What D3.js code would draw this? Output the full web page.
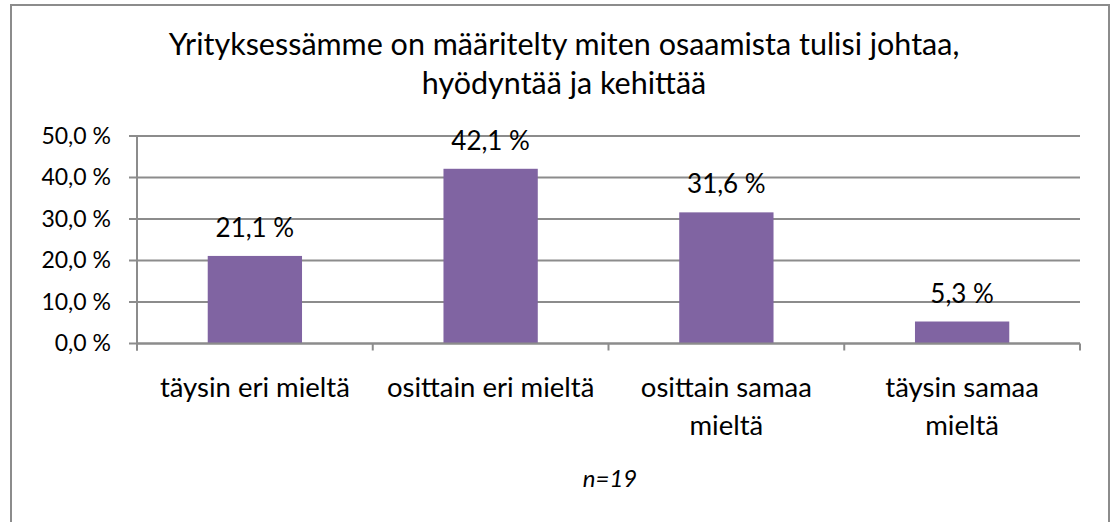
<!DOCTYPE html>
<html>
<head>
<meta charset="utf-8">
<script src="https://cdn.jsdelivr.net/npm/d3@7/dist/d3.min.js"></script>
<style>
  html, body { margin: 0; padding: 0; background: #fff; }
  svg { display: block; }
  text { font-family: Lato, "Open Sans", sans-serif; fill: #000; }
</style>
</head>
<body>
<svg id="chart" width="1115" height="522"></svg>
<script>
const titleLines = ["Yrityksessämme on määritelty miten osaamista tulisi johtaa,", "hyödyntää ja kehittää"];
const categories = ["täysin eri mieltä", "osittain eri mieltä", "osittain samaa mieltä", "täysin samaa mieltä"];
const values = [21.1, 42.1, 31.6, 5.3];
const yTicks = [0, 10, 20, 30, 40, 50];
const note = "n=19";

(function () {
const svg = d3.select("#chart");
const pLeft = 137, pRight = 1080, pTop = 136, pBottom = 343.5;

// outer frame
svg.append("rect")
  .attr("x", 11).attr("y", 5).attr("width", 1098).attr("height", 540)
  .attr("fill", "#fff").attr("stroke", "#8c8c8c").attr("stroke-width", 2);

const fmt = v => d3.format(".1f")(v).replace(".", ",") + " %";

const x = d3.scaleBand().domain(categories).range([pLeft, pRight]).paddingInner(0.6).paddingOuter(0.3);
const xEdge = d3.scaleBand().domain(categories).range([pLeft, pRight]).padding(0);
const y = d3.scaleLinear().domain([0, 50]).range([pBottom, pTop]);

// gridlines
svg.append("g").selectAll("line").data(yTicks).join("line")
  .attr("x1", pLeft - 8).attr("x2", pRight)
  .attr("y1", d => y(d)).attr("y2", d => y(d))
  .attr("stroke", "#8c8c8c").attr("stroke-width", 2);

// y axis labels
const yAxis = svg.append("g").attr("transform", `translate(${pLeft},0)`)
  .call(d3.axisLeft(y).tickValues(yTicks).tickSize(0).tickPadding(26).tickFormat(fmt));
yAxis.select(".domain").remove();
yAxis.selectAll("text").style("font-family", "Lato, sans-serif").style("font-size", "23px").attr("fill", "#000");

// vertical axis line
svg.append("line").attr("x1", pLeft).attr("x2", pLeft).attr("y1", pTop).attr("y2", pBottom + 7)
  .attr("stroke", "#8c8c8c").attr("stroke-width", 2);

// bars
svg.append("g").selectAll("rect").data(categories).join("rect")
  .attr("x", d => x(d)).attr("width", x.bandwidth())
  .attr("y", (d, i) => y(values[i])).attr("height", (d, i) => y(0) - y(values[i]))
  .attr("fill", "#8064A2");

// x axis line and ticks
svg.append("line").attr("x1", pLeft).attr("x2", pRight).attr("y1", pBottom).attr("y2", pBottom)
  .attr("stroke", "#8c8c8c").attr("stroke-width", 2);
const edges = categories.map(c => xEdge(c)).concat([pRight]);
svg.append("g").selectAll("line").data(edges).join("line")
  .attr("x1", d => d).attr("x2", d => d).attr("y1", pBottom).attr("y2", pBottom + 7)
  .attr("stroke", "#8c8c8c").attr("stroke-width", 2);

// data labels
svg.append("g").selectAll("text").data(categories).join("text")
  .attr("x", d => x(d) + x.bandwidth() / 2)
  .attr("y", (d, i) => y(values[i]) - 19)
  .attr("text-anchor", "middle")
  .style("font-size", "26px")
  .text((d, i) => fmt(values[i]));

// category labels with wrapping
const maxW = 222;
categories.forEach(c => {
  const cx = xEdge(c) + xEdge.bandwidth() / 2;
  const t = svg.append("text")
    .attr("x", cx).attr("y", 397)
    .attr("text-anchor", "middle")
    .style("font-size", "27.5px");
  const words = c.split(" ");
  let line = [];
  let ts = t.append("tspan").attr("x", cx).attr("dy", 0);
  words.forEach(w => {
    line.push(w);
    ts.text(line.join(" "));
    if (ts.node().getComputedTextLength() > maxW && line.length > 1) {
      line.pop();
      ts.text(line.join(" "));
      line = [w];
      ts = t.append("tspan").attr("x", cx).attr("dy", 38).text(w);
    }
  });
});

// title
svg.append("text").attr("x", 564).attr("y", 55).attr("text-anchor", "middle")
  .style("font-size", "30.5px")
  .selectAll("tspan").data(titleLines).join("tspan")
  .attr("x", 564).attr("dy", (d, i) => i === 0 ? 0 : 39).text(d => d);

// note
svg.append("text").attr("x", 610).attr("y", 487).attr("text-anchor", "middle")
  .style("font-size", "24px").style("font-style", "italic").text(note);
})();
</script>
</body>
</html>
